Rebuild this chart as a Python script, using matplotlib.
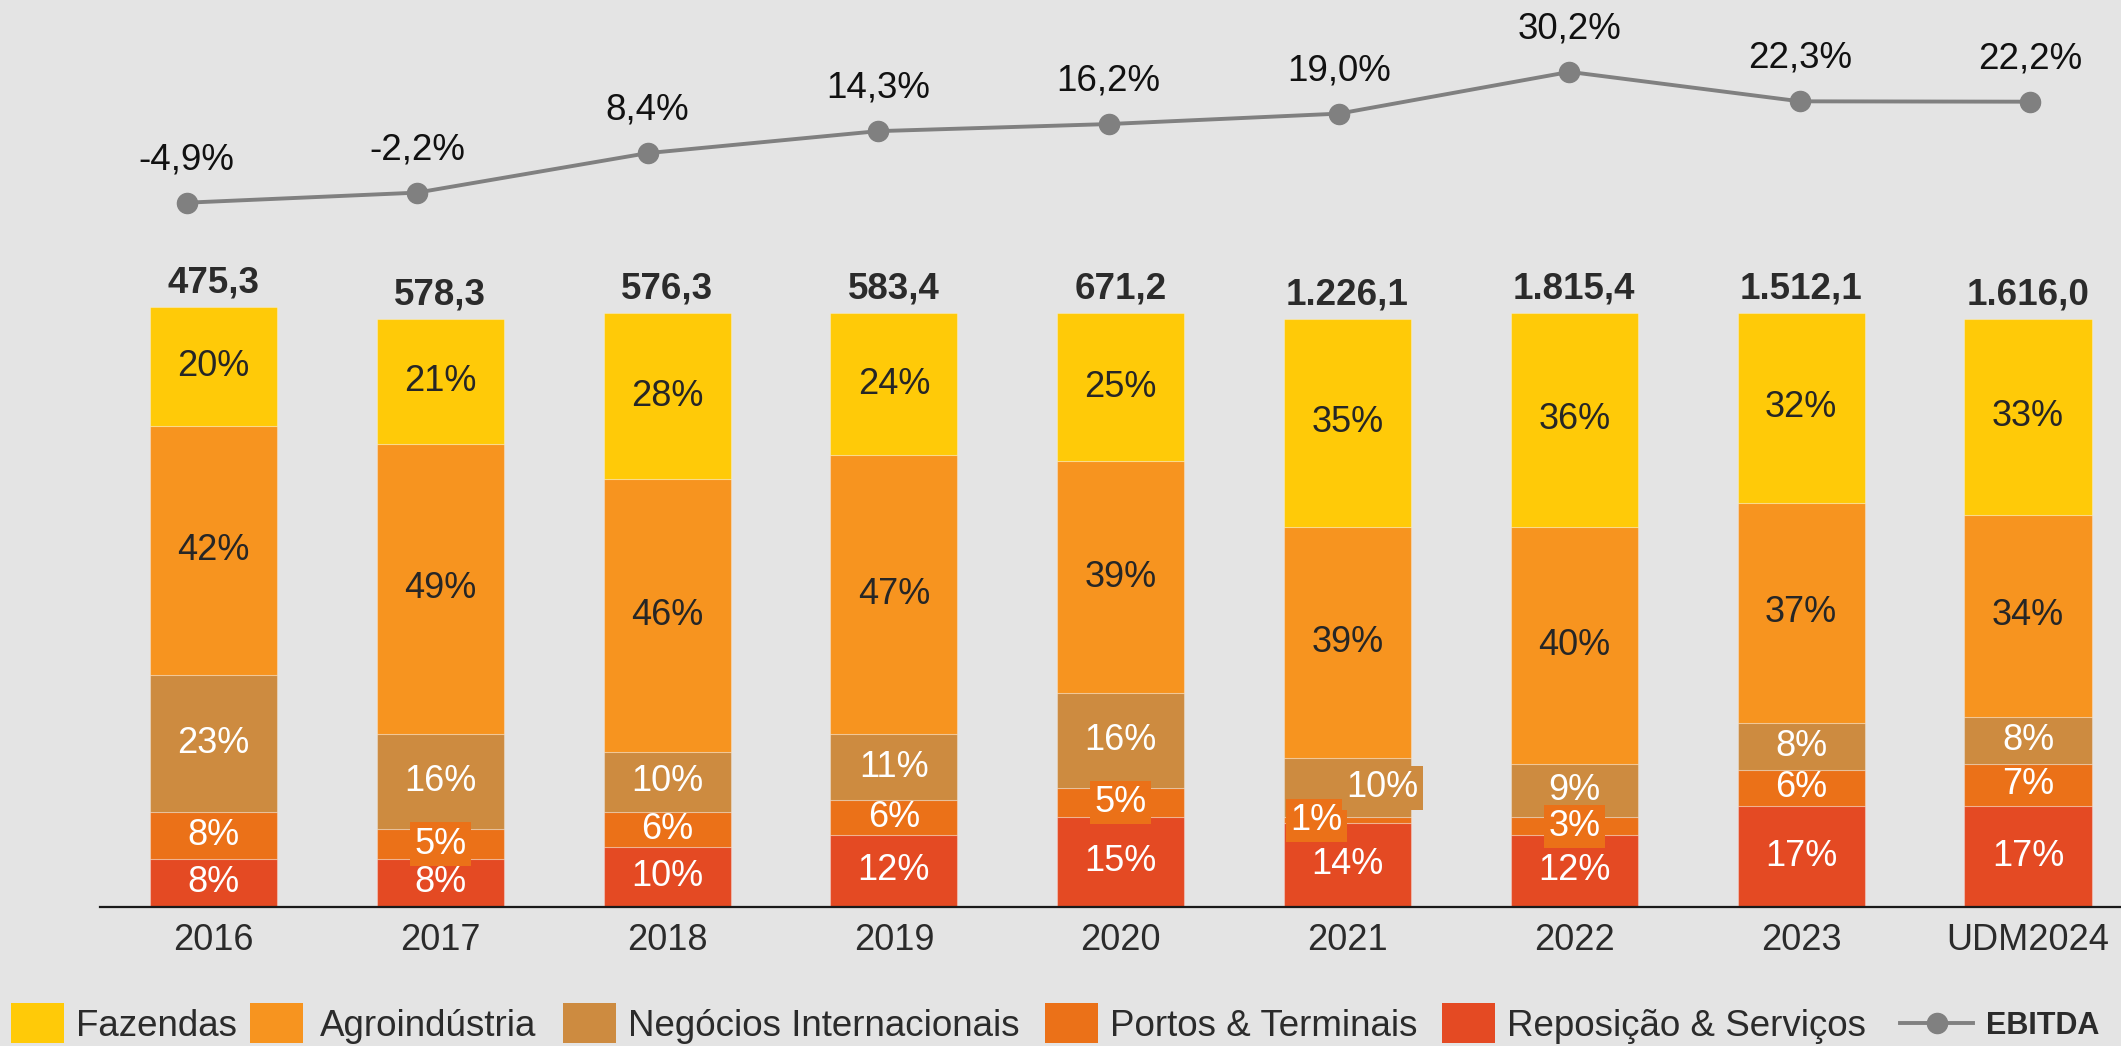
import numpy as np
import matplotlib.pyplot as plt
from matplotlib.patches import Rectangle
from matplotlib.lines import Line2D

# dados
anos = ['2016', '2017', '2018', '2019', '2020', '2021', '2022', '2023', 'UDM2024']
totais = ['475,3', '578,3', '576,3', '583,4', '671,2', '1.226,1', '1.815,4', '1.512,1', '1.616,0']
ebitda = [-4.9, -2.2, 8.4, 14.3, 16.2, 19.0, 30.2, 22.3, 22.2]

fazendas = [20, 21, 28, 24, 25, 35, 36, 32, 33]
agroindustria = [42, 49, 46, 47, 39, 39, 40, 37, 34]
negocios = [23, 16, 10, 11, 16, 10, 9, 8, 8]
portos = [8, 5, 6, 6, 5, 1, 3, 6, 7]
reposicao = [8, 8, 10, 12, 15, 14, 12, 17, 17]

nomes = ['Fazendas', 'Agroindústria', 'Negócios Internacionais',
         'Portos & Terminais', 'Reposição & Serviços']
cores = ['#FFCA08', '#F7941F', '#CD8B40', '#EB7118', '#E44A23']
cor_texto = ['#262626', '#262626', 'white', 'white', 'white']

plt.rcParams['font.family'] = ['Liberation Sans', 'DejaVu Sans']
fundo = '#E4E4E4'

fig = plt.figure(figsize=(21.21, 10.46), dpi=100, facecolor=fundo)
W, H = 2121, 1046
base = 906.5
rect = [100 / W, (H - base) / H, (W - 100) / W, base / H]
ax = fig.add_axes(rect)
ax.set_facecolor(fundo)

x = np.arange(len(anos))
largura = 0.56
pilha = [reposicao, portos, negocios, agroindustria, fazendas]
nomes_pilha = nomes[::-1]
cores_pilha = cores[::-1]
texto_pilha = cor_texto[::-1]

# rótulos com caixa (deslocamento horizontal em px)
caixas = {(1, 'Portos & Terminais'): 0, (4, 'Portos & Terminais'): 0,
          (5, 'Portos & Terminais'): -31, (5, 'Negócios Internacionais'): 35,
          (6, 'Portos & Terminais'): 0}

fundo_barra = np.zeros(len(anos))
for vals, nome, cor, ct in zip(pilha, nomes_pilha, cores_pilha, texto_pilha):
    vals = np.array(vals, dtype=float)
    ax.bar(x, vals, largura, bottom=fundo_barra, color=cor,
           edgecolor=(1, 1, 1, 0.3), linewidth=0.8)
    for i, v in enumerate(vals):
        yc = fundo_barra[i] + v / 2
        chave = (i, nome)
        if chave in caixas:
            ax.annotate(f'{int(v)}%', (x[i], yc), xytext=(caixas[chave] * 0.72, 0),
                        textcoords='offset points', ha='center', va='center',
                        fontsize=26, color=ct,
                        bbox=dict(boxstyle='square,pad=0.12', fc=cor, ec='none'))
        else:
            ax.text(x[i], yc, f'{int(v)}%', ha='center', va='center',
                    fontsize=26, color=ct)
    fundo_barra += vals

for i, t in enumerate(totais):
    ax.annotate(t, (x[i], fundo_barra[i]), xytext=(0, 17), textcoords='offset points',
                ha='center', va='center', fontsize=26.5, fontweight='bold', color='#2b2b2b')

ax.set_xlim(-0.5, 8.41)
ax.set_ylim(0, base / 5.935)
ax.set_xticks(x)
ax.set_xticklabels(anos, fontsize=26, color='#2b2b2b')
ax.tick_params(axis='x', length=0, pad=12)
ax.set_yticks([])
for s in ['top', 'right', 'left']:
    ax.spines[s].set_visible(False)
ax.spines['bottom'].set_color('#1a1a1a')
ax.spines['bottom'].set_linewidth(1.6)

# linha EBITDA (escala x própria, como no original)
ax2 = fig.add_axes(rect, label='ebitda')
ax2.patch.set_visible(False)
ax2.set_xlim((100 - 186.5) / 230.5, (W - 186.5) / 230.5)
ax2.set_ylim(-4.9 - (base - 202.7) / 3.727, -4.9 + 202.7 / 3.727)
ax2.plot(x, ebitda, color='#808080', linewidth=2.8, marker='o', markersize=14.5)
for i, v in enumerate(ebitda):
    ax2.annotate(f'{v:.1f}%'.replace('.', ','), (x[i], v), xytext=(0, 31),
                 textcoords='offset points', ha='center', va='center',
                 fontsize=26.5, color='#111111')
ax2.axis('off')

# legenda (posições em px)
y_leg = 1023
x_caixa = [11, 250, 563, 1045, 1442]
x_texto = [76, 320, 628, 1110, 1507]
for nome, cor, xc, xt in zip(nomes, cores, x_caixa, x_texto):
    fig.add_artist(Rectangle((xc / W, (H - y_leg - 20) / H), 53 / W, 40 / H,
                             transform=fig.transFigure, facecolor=cor, edgecolor='none'))
    fig.text(xt / W, (H - y_leg) / H, nome, fontsize=26.5, color='#2b2b2b',
             ha='left', va='center_baseline')
fig.add_artist(Line2D([1900 / W, 1973 / W], [(H - y_leg) / H] * 2, transform=fig.transFigure,
                      color='#808080', linewidth=2.8))
fig.add_artist(Line2D([1937 / W], [(H - y_leg) / H], transform=fig.transFigure,
                      color='#808080', marker='o', markersize=14.5))
fig.text(1986 / W, (H - y_leg) / H, 'EBITDA', fontsize=22, fontweight='bold',
         color='#2b2b2b', ha='left', va='center_baseline')

fig.savefig('out.png', dpi=100, facecolor=fundo)
